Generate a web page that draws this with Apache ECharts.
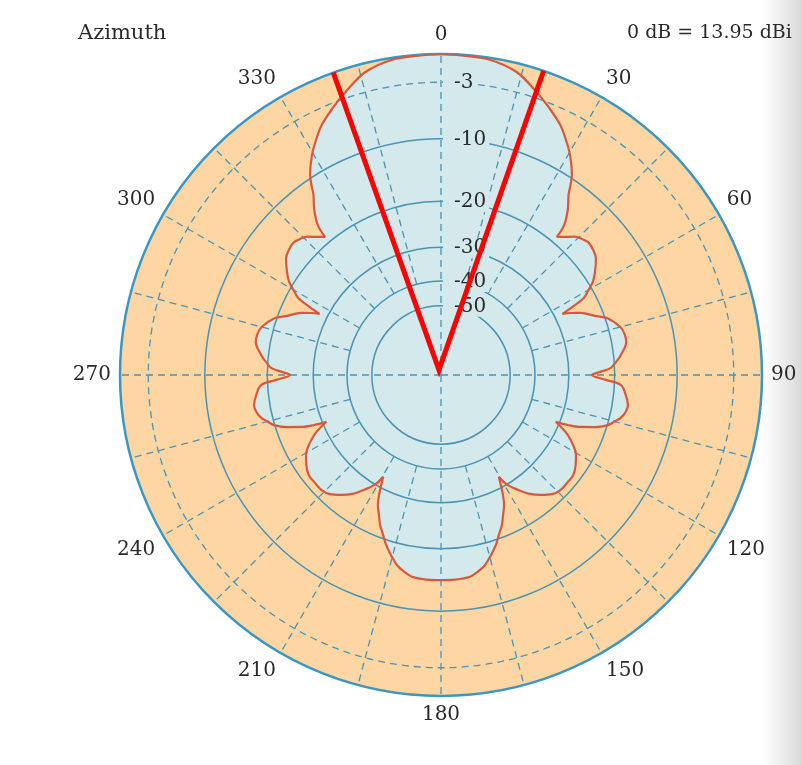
<!DOCTYPE html>
<html><head><meta charset="utf-8">
<script src="https://cdn.jsdelivr.net/npm/echarts@6/dist/echarts.min.js"></script>
<style>html,body{margin:0;padding:0;background:#fff}#c{width:802px;height:765px}</style>
</head><body><div id="c"></div>
<script>
// ---- data ----
const angleTickLabels = [0, 30, 60, 90, 120, 150, 180, 210, 240, 270, 300, 330];
const ringDb = [0, -3, -10, -20, -30, -40, -50];
const ringLabels = ['', '-3', '-10', '-20', '-30', '-40', '-50'];
const spokeAngles = [0, 15, 30, 45, 60, 75, 90, 105, 120, 135, 150, 165, 180, 195, 210, 225, 240, 255, 270, 285, 300, 315, 330, 345];
const spokeFullAngles = [0, 90, 180, 270];
const spokeInnerDb = -40;

const patternRightAngle = [0,4,8.8,14,18.8,22,25.5,28,30.4,33.2,34.3,35.3,37.5,39.4,40,42,44,46,48,50.5,53,56,58.5,60.3,61.7,62.6,63.3,64.5,66.1,69,71.2,75.1,77.5,79.9,83.7,86,87.6,89,90,91.7,93.2,96.2,99.1,101.4,103.4,104.8,106.7,108.7,110.4,111.5,112.2,113.7,115.3,117.9,120.7,123.7,127.1,130.1,133.8,137,140.2,143.2,146.2,148.7,150.4,151.6,152.7,154.1,156.1,157.9,160.1,162.1,164.5,167,169.4,171.8,176,180];
const patternRightDb = [0,-0.1,-0.2,-0.9,-2.4,-3.5,-4.8,-6.1,-7.5,-9.6,-10.9,-12.2,-14.1,-16.4,-18.8,-17.8,-16.7,-16.1,-15.7,-15.9,-16.4,-17.8,-19.2,-20.9,-22.3,-25.2,-28.0,-26.1,-24.1,-21.7,-19.6,-17.8,-17.4,-17.4,-18.7,-19.8,-20.7,-23.1,-24.6,-21.7,-18.8,-17.8,-17.2,-17.4,-18.0,-18.8,-19.9,-22.2,-25.0,-27.9,-31.0,-28.9,-27.0,-24.9,-23.3,-22.3,-21.5,-21.5,-21.5,-22.1,-23.5,-25.1,-27.5,-29.7,-32.9,-30.4,-28.2,-26.0,-24.1,-22.3,-20.7,-19.1,-17.6,-16.2,-15.4,-14.8,-14.6,-14.6];
const patternLeftAngle = [180,184,188.2,190.6,193,195.5,197.9,199.9,202.1,203.9,205.9,207.3,208.4,209.6,211.3,213.8,216.8,219.8,223,226.2,229.9,232.9,236.3,239.3,242.1,244.7,246.3,247.8,248.5,249.6,251.3,253.3,255.2,256.6,258.6,260.9,263.8,266.8,268.3,270,271,272.4,274,276.3,280.1,282.5,284.9,288.8,291,293.9,295.5,296.7,297.4,298.3,299.7,301.5,304,307,309.5,312,314,316,318,320,320.6,322.5,324.7,325.7,326.8,329.6,332,334.5,338,341.2,346,351.2,356,360];
const patternLeftDb = [-14.6,-14.6,-14.8,-15.4,-16.2,-17.6,-19.1,-20.7,-22.3,-24.1,-26.0,-28.2,-30.4,-32.9,-29.7,-27.5,-25.1,-23.5,-22.1,-21.5,-21.5,-21.5,-22.3,-23.3,-24.9,-27.0,-28.9,-31.0,-27.9,-25.0,-22.2,-19.9,-18.8,-18.0,-17.4,-17.2,-17.8,-18.8,-21.7,-24.6,-23.1,-20.7,-19.8,-18.7,-17.4,-17.4,-17.8,-19.6,-21.7,-24.1,-26.1,-28.0,-25.2,-22.3,-20.9,-19.2,-17.8,-16.4,-15.9,-15.7,-16.1,-16.7,-17.8,-18.8,-16.4,-14.1,-12.2,-10.9,-9.6,-7.5,-6.1,-4.8,-3.5,-2.4,-0.9,-0.2,-0.1,0];

// red V annotation (radius as fraction of 0 dB circle, angle in degrees)
const markerRadius = [1.06, 0.017, 1.087];
const markerAngle = [340.4, 338, 18.7];

const titleText = 'Azimuth';
const refText = '0 dB = 13.95 dBi';

// ---- radial scale (log-periodic style) ----
const DB_PER_DECADE = 75;
const toR = db => Math.pow(10, db / DB_PER_DECADE);

const patternData = [];
patternRightAngle.forEach((a, i) => patternData.push([toR(patternRightDb[i]), a]));
patternLeftAngle.forEach((a, i) => { if (i > 0) patternData.push([toR(patternLeftDb[i]), a]); });

const markerData = markerRadius.map((r, i) => [r, markerAngle[i]]);

const FONT = 'DejaVu Serif';
const ORANGE = '#fdd6a4';
const BLUE = '#d4e9eb';
const GRID = '#4a93b3';
const TEXT = '#2a2a2a';

const chart = echarts.init(document.getElementById('c'), null, {renderer: 'canvas'});

function centerAndRadius(api, r) {
  const c = api.coord([0, 0]);
  const p = api.coord([r, 0]);
  return [c, Math.hypot(p[0] - c[0], p[1] - c[1])];
}

chart.setOption({
  animation: false,
  backgroundColor: '#fff',
  graphic: [
    {type: 'rect', right: 0, top: 0, shape: {width: 40, height: 765}, z: -10,
     style: {fill: new echarts.graphic.LinearGradient(0, 0, 1, 0, [{offset: 0, color: 'rgba(225,225,225,0)'}, {offset: 1, color: 'rgba(215,215,215,1)'}])}},
    {type: 'text', left: 78, top: 23, style: {text: titleText, font: '21px "' + FONT + '"', fill: TEXT}},
    {type: 'text', left: 627, top: 24, style: {text: refText, font: '19px "' + FONT + '"', fill: TEXT}}
  ],
  polar: {center: [441, 375], radius: 321},
  radiusAxis: {type: 'value', min: 0, max: 1, show: false},
  angleAxis: {
    type: 'value', min: 0, max: 360, interval: 30, startAngle: 90, clockwise: true,
    axisLine: {show: false}, axisTick: {show: false}, splitLine: {show: false},
    axisLabel: {
      margin: 9, fontFamily: FONT, fontSize: 20, color: TEXT,
      formatter: v => angleTickLabels.includes(v) ? String(v) : ''
    }
  },
  series: [
    {
      type: 'custom', coordinateSystem: 'polar', z: 1, silent: true,
      data: [[1, 0]],
      renderItem: (params, api) => {
        const [c, r] = centerAndRadius(api, api.value(0));
        return {type: 'circle', shape: {cx: c[0], cy: c[1], r: r}, style: {fill: ORANGE}};
      }
    },
    {
      type: 'line', coordinateSystem: 'polar', z: 2, silent: true,
      data: patternData, symbol: 'none', showSymbol: false, smooth: 0.35,
      lineStyle: {width: 0, opacity: 0},
      areaStyle: {color: BLUE, opacity: 1}
    },
    {
      type: 'custom', coordinateSystem: 'polar', z: 3, silent: true,
      data: spokeAngles.map(a => [toR(spokeInnerDb), a]),
      renderItem: (params, api) => {
        const a = api.value(1);
        const inner = spokeFullAngles.includes(a) ? 0 : api.value(0);
        const p1 = api.coord([inner, a]);
        const p2 = api.coord([1, a]);
        return {type: 'line', shape: {x1: p1[0], y1: p1[1], x2: p2[0], y2: p2[1]},
          style: {stroke: GRID, lineWidth: 1.3, lineDash: [7, 5]}};
      }
    },
    {
      type: 'custom', coordinateSystem: 'polar', z: 3, silent: true,
      data: ringDb.map(d => [toR(d), 0, d]),
      renderItem: (params, api) => {
        const d = api.value(2);
        const [c, r] = centerAndRadius(api, api.value(0));
        let style;
        if (d === 0) style = {fill: null, stroke: '#3a97c4', lineWidth: 2.5};
        else if (d === -3) style = {fill: null, stroke: GRID, lineWidth: 1.3, lineDash: [7, 5]};
        else style = {fill: null, stroke: GRID, lineWidth: 1.5};
        return {type: 'circle', shape: {cx: c[0], cy: c[1], r: r}, style: style};
      }
    },
    {
      type: 'line', coordinateSystem: 'polar', z: 4, silent: true,
      data: patternData, symbol: 'none', showSymbol: false, smooth: 0.35,
      lineStyle: {color: '#d9583c', width: 2.2}
    },
    {
      type: 'custom', coordinateSystem: 'polar', z: 5, silent: true,
      data: ringDb.map((d, i) => [toR(d), 0, i]),
      renderItem: (params, api) => {
        const label = ringLabels[api.value(2)];
        if (!label) return null;
        const p = api.coord([api.value(0), 0]);
        return {type: 'text', x: p[0] + 2, y: p[1] + 1,
          style: {text: label, fontFamily: FONT, fontSize: 20, fill: TEXT,
            align: 'left', verticalAlign: 'middle', backgroundColor: BLUE, padding: [0, 3, 0, 11]}};
      }
    },
    {
      type: 'line', coordinateSystem: 'polar', z: 10, silent: true, clip: false,
      data: markerData, symbol: 'none', showSymbol: false,
      lineStyle: {color: '#ff0000', width: 5, join: 'miter'}
    }
  ]
});
</script>
</body></html>
